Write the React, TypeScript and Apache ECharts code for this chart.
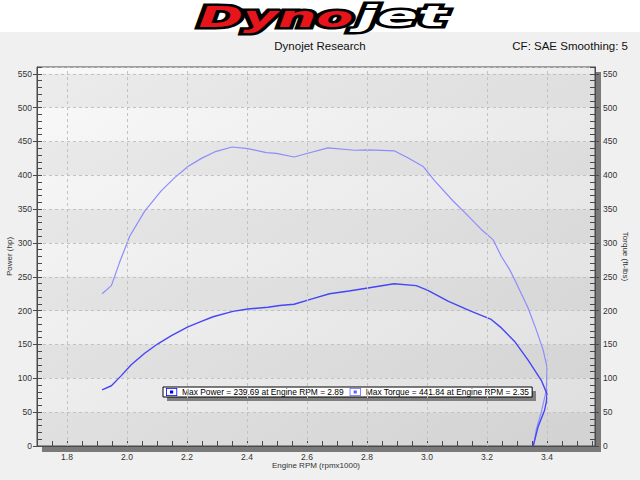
import React, { useRef, useEffect } from 'react';
import * as echarts from 'echarts';

// engine speed (rpm x 1000) and power (hp) along the run
const powerRpm = [1.917, 1.948, 1.981, 2.014, 2.059, 2.103, 2.148, 2.203, 2.248, 2.287, 2.353, 2.403, 2.47, 2.509, 2.557, 2.614, 2.675, 2.74, 2.803, 2.89, 2.964, 3.003, 3.07, 3.148, 3.214, 3.248, 3.292, 3.337, 3.381, 3.4, 3.398, 3.392, 3.37, 3.354];
const powerHp = [83, 89, 104, 120, 137, 151, 163, 176, 184, 191, 199, 202.5, 205, 207.5, 209.5, 217, 225, 229, 233.5, 239.7, 237, 230, 214, 199, 187, 174.5, 154.5, 127, 97, 77, 66, 53, 28, 0];

// engine speed and torque (ft-lbs)
const torqueRpm = [1.917, 1.948, 1.975, 2.009, 2.059, 2.114, 2.159, 2.203, 2.248, 2.292, 2.35, 2.403, 2.464, 2.498, 2.557, 2.603, 2.67, 2.759, 2.803, 2.892, 2.936, 2.987, 3.025, 3.087, 3.137, 3.181, 3.22, 3.248, 3.275, 3.292, 3.337, 3.364, 3.387, 3.4, 3.398, 3.381, 3.364, 3.355];
const torqueFtLbs = [225, 237, 271, 310, 347, 377, 396.5, 413, 425, 434.5, 441.8, 439.5, 433.5, 432.5, 427, 432.5, 440.5, 437, 437.5, 436, 426, 413, 392, 362, 340, 320, 305, 280, 261, 246, 204, 172, 142, 117, 83, 50, 24, 0];

// vertical grid lines on the rpm axis
const rpmGridTicks = [1.8, 2.0, 2.2, 2.4, 2.6, 2.8, 3.0, 3.2, 3.4];

const maxPower = { value: '239.69', rpm: '2.89' };
const maxTorque = { value: '441.84', rpm: '2.35' };

const FONT = 'Liberation Sans';
const POWER_COLOR = '#4646f6';
const TORQUE_COLOR = '#8c8cff';
const ICON = 'path://M0,0H14V10H0Z M1,1V9H13V1Z M5,3H9V7H5Z';

const isMajor = (v: number) => Math.abs(v / 0.2 - Math.round(v / 0.2)) < 1e-6;

export default function App() {
  const chartRef = useRef<HTMLDivElement>(null);

  useEffect(() => {
    document.body.style.margin = '0';
    if (!chartRef.current) return;
    const chart = echarts.init(chartRef.current, null, { renderer: 'svg' });

    const yCommon = {
      type: 'value',
      min: 0,
      max: 560,
      interval: 50,
      axisLine: { show: true, lineStyle: { color: '#4a4a4a', width: 1 } },
      axisTick: { show: true, length: 4, lineStyle: { color: '#4a4a4a' } },
      axisLabel: { showMaxLabel: false, fontSize: 8.5, color: '#333', fontFamily: FONT },
      nameLocation: 'middle',
      nameMoveOverlap: false,
      nameTextStyle: { fontSize: 8, color: '#333', fontFamily: FONT },
    };
    const yMinor = {
      type: 'value',
      min: 0,
      max: 560,
      interval: 10,
      axisLine: { show: false },
      axisTick: { show: true, inside: true, length: 5, lineStyle: { color: '#4a4a4a' } },
      axisLabel: { show: false },
      splitLine: { show: false },
    };

    chart.setOption({
      animation: false,
      backgroundColor: '#f0f0f0',
      grid: {
        left: 37,
        right: 45,
        top: 67,
        bottom: 34,
        show: true,
        outerBoundsMode: 'none',
        backgroundColor: {
          type: 'linear', x: 0, y: 0, x2: 1, y2: 1,
          colorStops: [
            { offset: 0, color: '#f9f9f9' },
            { offset: 1, color: '#dedede' },
          ],
        },
        borderColor: '#4a4a4a',
        borderWidth: 1,
      },
      graphic: [
        { type: 'rect', shape: { x: 0, y: 0, width: 640, height: 32 }, style: { fill: '#ffffff' }, z: -10 },
        { type: 'rect', shape: { x: 596, y: 72, width: 5, height: 380 }, style: { fill: '#7a7a7a' }, z: -1 },
        { type: 'rect', shape: { x: 42, y: 447, width: 559, height: 5 }, style: { fill: '#7a7a7a' }, z: -1 },
        { type: 'rect', shape: { x: 167, y: 391, width: 369, height: 10 }, style: { fill: '#808080' }, z: 3 },
        {
          type: 'text', x: 353, y: 16.5, scaleX: 1.85, z: 10,
          style: {
            text: 'Dyno', align: 'right', verticalAlign: 'middle',
            font: 'italic 900 29px "DejaVu Sans"', fill: '#e8141c',
            stroke: '#000', lineWidth: 5,
          },
        },
        {
          type: 'text', x: 357, y: 16.5, scaleX: 2.05, z: 10,
          style: {
            text: 'jet', align: 'left', verticalAlign: 'middle',
            font: 'italic 900 29px "DejaVu Sans"', fill: '#ffffff',
            stroke: '#000', lineWidth: 5,
          },
        },
        {
          type: 'text', x: 320, y: 46, z: 10,
          style: { text: 'Dynojet Research', align: 'center', verticalAlign: 'middle', font: `11.5px "${FONT}"`, fill: '#111' },
        },
        {
          type: 'text', x: 628, y: 46, z: 10,
          style: { text: 'CF: SAE Smoothing: 5', align: 'right', verticalAlign: 'middle', font: `11.5px "${FONT}"`, fill: '#111' },
        },
      ],
      legend: {
        left: 163,
        top: 387,
        padding: [1, 3, 1, 3],
        itemGap: 6,
        itemWidth: 17,
        itemHeight: 8,
        backgroundColor: '#ffffff',
        borderColor: '#000',
        borderWidth: 1,
        borderRadius: 0,
        textStyle: { fontSize: 8.4, color: '#000', fontFamily: FONT, padding: [0, 0, 0, -3] },
        formatter: (name: string) =>
          name === 'Power'
            ? `Max Power = ${maxPower.value} at Engine RPM = ${maxPower.rpm}`
            : `Max Torque = ${maxTorque.value} at Engine RPM = ${maxTorque.rpm}`,
        data: [
          { name: 'Power', icon: ICON, itemStyle: { color: '#0000f0' } },
          { name: 'Torque', icon: ICON, itemStyle: { color: '#6464ff' } },
        ],
      },
      xAxis: {
        type: 'value',
        min: 1.7,
        max: 3.56,
        interval: 0.05,
        name: 'Engine RPM (rpmx1000)',
        nameLocation: 'middle',
        nameGap: 15,
        nameMoveOverlap: false,
        nameTextStyle: { fontSize: 8, color: '#333', fontFamily: FONT },
        axisLine: { show: true, lineStyle: { color: '#4a4a4a', width: 1 } },
        axisTick: { show: true, inside: true, length: 5, lineStyle: { color: '#4a4a4a' } },
        axisLabel: {
          margin: 6,
          fontSize: 8.5,
          color: '#333',
          fontFamily: FONT,
          showMaxLabel: false,
          formatter: (v: number) => (isMajor(v) ? v.toFixed(1) : ''),
        },
        splitLine: { show: false },
      },
      yAxis: [
        {
          ...yCommon,
          position: 'left',
          name: 'Power (hp)',
          nameGap: 24,
          axisLabel: { ...yCommon.axisLabel, margin: 5 },
          splitLine: { show: true, lineStyle: { color: '#c2c2c2', type: [3, 3] } },
          splitArea: { show: true, areaStyle: { color: ['rgba(0,0,0,0.05)', 'rgba(0,0,0,0)'] } },
        },
        {
          ...yCommon,
          position: 'right',
          name: 'Torque (ft-lbs)',
          nameGap: 26,
          nameRotate: -90,
          axisLabel: { ...yCommon.axisLabel, margin: 8 },
          splitLine: { show: false },
        },
        { ...yMinor, position: 'left' },
        { ...yMinor, position: 'right' },
      ],
      series: [
        {
          name: 'grid',
          type: 'line',
          data: [],
          z: 1,
          silent: true,
          markLine: {
            silent: true,
            symbol: 'none',
            label: { show: false },
            lineStyle: { color: '#c2c2c2', type: [3, 3], width: 1 },
            data: rpmGridTicks.map((v) => ({ xAxis: v })),
          },
        },
        {
          name: 'Torque',
          type: 'line',
          yAxisIndex: 1,
          data: torqueRpm.map((r, i) => [r, torqueFtLbs[i]]),
          symbol: 'none',
          lineStyle: { color: TORQUE_COLOR, width: 1.2 },
          itemStyle: { color: TORQUE_COLOR },
          z: 3,
        },
        {
          name: 'Power',
          type: 'line',
          yAxisIndex: 0,
          data: powerRpm.map((r, i) => [r, powerHp[i]]),
          symbol: 'none',
          lineStyle: { color: POWER_COLOR, width: 1.4 },
          itemStyle: { color: POWER_COLOR },
          z: 3,
        },
      ],
    });

    return () => {
      chart.dispose();
    };
  }, []);

  return <div ref={chartRef} style={{ width: '640px', height: '480px' }} />;
}
